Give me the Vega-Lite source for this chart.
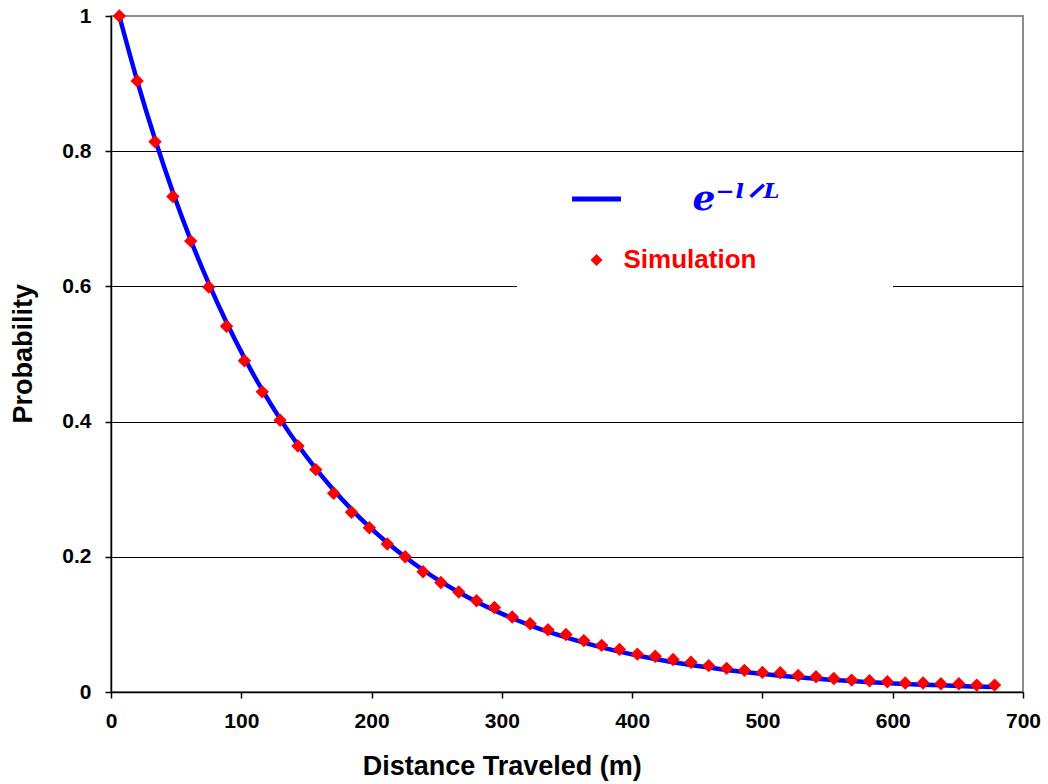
{
  "$schema": "https://vega.github.io/schema/vega-lite/v6.json",
  "width": 912,
  "height": 676,
  "autosize": {"type": "none"},
  "padding": {"left": 111, "top": 16, "right": 25, "bottom": 92},
  "background": "white",
  "config": {
    "view": {"stroke": "#8c8c8c", "strokeWidth": 2},
    "font": "Liberation Sans"
  },
  "data": {
    "values": [
      {"distance": 6.4, "simulation": 1.0, "theory": 1.0},
      {"distance": 20.1, "simulation": 0.904, "theory": 0.9042},
      {"distance": 33.8, "simulation": 0.814, "theory": 0.8176},
      {"distance": 47.5, "simulation": 0.733, "theory": 0.7393},
      {"distance": 61.2, "simulation": 0.667, "theory": 0.6685},
      {"distance": 75.0, "simulation": 0.599, "theory": 0.6044},
      {"distance": 88.7, "simulation": 0.541, "theory": 0.5465},
      {"distance": 102.4, "simulation": 0.49, "theory": 0.4942},
      {"distance": 116.1, "simulation": 0.444, "theory": 0.4468},
      {"distance": 129.8, "simulation": 0.402, "theory": 0.404},
      {"distance": 143.5, "simulation": 0.364, "theory": 0.3653},
      {"distance": 157.2, "simulation": 0.329, "theory": 0.3303},
      {"distance": 170.9, "simulation": 0.294, "theory": 0.2987},
      {"distance": 184.6, "simulation": 0.266, "theory": 0.2701},
      {"distance": 198.3, "simulation": 0.243, "theory": 0.2442},
      {"distance": 212.1, "simulation": 0.219, "theory": 0.2208},
      {"distance": 225.8, "simulation": 0.2, "theory": 0.1997},
      {"distance": 239.5, "simulation": 0.178, "theory": 0.1805},
      {"distance": 253.2, "simulation": 0.162, "theory": 0.1632},
      {"distance": 266.9, "simulation": 0.148, "theory": 0.1476},
      {"distance": 280.6, "simulation": 0.135, "theory": 0.1335},
      {"distance": 294.3, "simulation": 0.125, "theory": 0.1207},
      {"distance": 308.0, "simulation": 0.111, "theory": 0.1091},
      {"distance": 321.7, "simulation": 0.101, "theory": 0.0987},
      {"distance": 335.4, "simulation": 0.092, "theory": 0.0892},
      {"distance": 349.2, "simulation": 0.085, "theory": 0.0807},
      {"distance": 362.9, "simulation": 0.076, "theory": 0.073},
      {"distance": 376.6, "simulation": 0.069, "theory": 0.066},
      {"distance": 390.3, "simulation": 0.063, "theory": 0.0597},
      {"distance": 404.0, "simulation": 0.056, "theory": 0.0539},
      {"distance": 417.7, "simulation": 0.053, "theory": 0.0488},
      {"distance": 431.4, "simulation": 0.048, "theory": 0.0441},
      {"distance": 445.1, "simulation": 0.044, "theory": 0.0399},
      {"distance": 458.8, "simulation": 0.039, "theory": 0.0361},
      {"distance": 472.5, "simulation": 0.035, "theory": 0.0326},
      {"distance": 486.2, "simulation": 0.032, "theory": 0.0295},
      {"distance": 500.0, "simulation": 0.029, "theory": 0.0267},
      {"distance": 513.7, "simulation": 0.0285, "theory": 0.0241},
      {"distance": 527.4, "simulation": 0.0245, "theory": 0.0218},
      {"distance": 541.1, "simulation": 0.0226, "theory": 0.0197},
      {"distance": 554.8, "simulation": 0.02, "theory": 0.0178},
      {"distance": 568.5, "simulation": 0.0176, "theory": 0.0161},
      {"distance": 582.2, "simulation": 0.0167, "theory": 0.0146},
      {"distance": 595.9, "simulation": 0.0152, "theory": 0.0132},
      {"distance": 609.6, "simulation": 0.0132, "theory": 0.0119},
      {"distance": 623.3, "simulation": 0.0132, "theory": 0.0108},
      {"distance": 637.0, "simulation": 0.0123, "theory": 0.0098},
      {"distance": 650.8, "simulation": 0.0123, "theory": 0.0088},
      {"distance": 664.5, "simulation": 0.0102, "theory": 0.008},
      {"distance": 678.2, "simulation": 0.0102, "theory": 0.0072}
    ]
  },
  "encoding": {
    "x": {
      "field": "distance",
      "type": "quantitative",
      "scale": {"domain": [0, 700], "nice": false, "zero": true},
      "axis": {
        "title": "Distance Traveled (m)",
        "values": [0, 100, 200, 300, 400, 500, 600, 700],
        "grid": false,
        "domainColor": "black",
        "domainWidth": 1.5,
        "tickColor": "black",
        "tickWidth": 1.5,
        "tickSize": 6,
        "labelFont": "Liberation Sans",
        "labelFontWeight": "bold",
        "labelFontSize": 21,
        "labelColor": "black",
        "labelPadding": 12,
        "labelFlush": false,
        "labelOverlap": false,
        "titleFont": "Liberation Sans",
        "titleFontWeight": "bold",
        "titleFontSize": 27,
        "titleColor": "black",
        "titleX": 390.7,
        "titleY": 82,
        "titleAlign": "center",
        "titleBaseline": "alphabetic"
      }
    }
  },
  "layer": [
    {
      "mark": {"type": "line", "strokeWidth": 4.5, "interpolate": "monotone"},
      "encoding": {
        "y": {
          "field": "theory",
          "type": "quantitative",
          "scale": {"domain": [0, 1], "nice": false},
          "axis": {
            "title": "Probability",
            "values": [0, 0.2, 0.4, 0.6, 0.8, 1],
            "format": "~g",
            "grid": true,
            "gridColor": "black",
            "gridWidth": 1,
            "gridOpacity": {"condition": {"test": "datum.value >= 0.99 || datum.value <= 0.01", "value": 0}, "value": 1},
            "domainColor": "black",
            "domainWidth": 1.5,
            "tickColor": "black",
            "tickWidth": 1.5,
            "tickSize": 6,
            "labelFont": "Liberation Sans",
            "labelFontWeight": "bold",
            "labelFontSize": 21,
            "labelColor": "black",
            "labelPadding": 14,
            "labelFlush": false,
            "labelOverlap": false,
            "titleFont": "Liberation Sans",
            "titleFontWeight": "bold",
            "titleFontSize": 27,
            "titleColor": "black",
            "titleAngle": 270,
            "titleX": -79.3,
            "titleY": 337.3,
            "titleAlign": "center",
            "titleBaseline": "alphabetic"
          }
        },
        "color": {
          "datum": "e⁻ˡᐟᴸ",
          "type": "nominal",
          "scale": {"domain": ["e⁻ˡᐟᴸ", "Simulation"], "range": ["#0000ff", "#ff0000"]},
          "legend": {
            "orient": "none",
            "legendX": 406,
            "legendY": 145,
            "title": "\u00a0",
            "titleOrient": "right",
            "titlePadding": 94,
            "titleFontSize": 6,
            "titleColor": "white",
            "fillColor": "white",
            "strokeColor": null,
            "padding": 20,
            "symbolType": "stroke",
            "symbolSize": 2401,
            "symbolStrokeWidth": 5,
            "symbolOffset": 41.5,
            "labelOffset": 9,
            "labelFontSize": 26,
            "labelLimit": 500,
            "rowPadding": 25,
            "encode": {
              "symbols": {
                "update": {
                  "shape": {"signal": "datum.value === 'Simulation' ? 'diamond' : 'stroke'"},
                  "size": {"signal": "datum.value === 'Simulation' ? 144 : 2401"},
                  "fill": {"signal": "datum.value === 'Simulation' ? '#ff0000' : 'transparent'"},
                  "stroke": {"signal": "datum.value === 'Simulation' ? 'transparent' : '#0000ff'"},
                  "strokeWidth": {"signal": "datum.value === 'Simulation' ? 0 : 5"},
                  "opacity": {"value": 1}
                }
              },
              "labels": {
                "update": {
                  "text": {"signal": "datum.value === 'Simulation' ? 'Simulation' : 'e⁻ˡᐟ\u200aᴸ'"},
                  "fill": {"signal": "datum.value === 'Simulation' ? '#ff0000' : '#0000ff'"},
                  "fontSize": {"signal": "datum.value === 'Simulation' ? 26 : 36"},
                  "font": {"signal": "datum.value === 'Simulation' ? 'Liberation Sans' : 'DejaVu Serif'"},
                  "fontStyle": {"signal": "datum.value === 'Simulation' ? 'normal' : 'italic'"},
                  "fontWeight": {"value": "bold"},
                  "dx": {"signal": "datum.value === 'Simulation' ? 0 : 69"}
                }
              }
            }
          }
        }
      }
    },
    {
      "mark": {"type": "point", "shape": "diamond", "filled": true, "size": 180, "opacity": 1, "strokeWidth": 0},
      "encoding": {
        "y": {"field": "simulation", "type": "quantitative"},
        "color": {"datum": "Simulation", "type": "nominal"}
      }
    }
  ]
}
